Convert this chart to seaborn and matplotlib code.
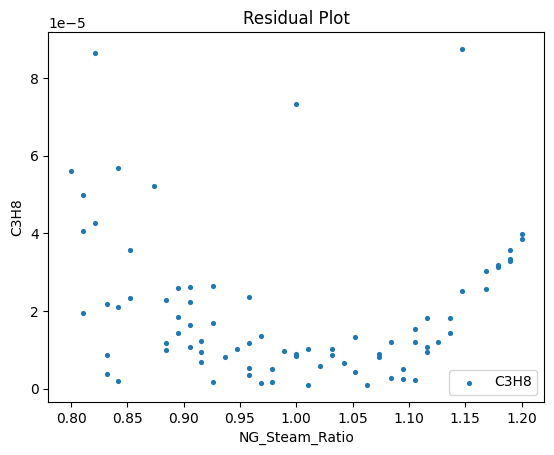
import pandas as pd
import matplotlib
matplotlib.use('Agg')
import matplotlib.pyplot as plt
import seaborn as sns

# NG_Steam_Ratio values
ng_steam_ratio = [
    0.8000,
    0.8105, 0.8105, 0.8105,
    0.8211, 0.8211,
    0.8316, 0.8316, 0.8316,
    0.8421, 0.8421, 0.8421,
    0.8526, 0.8526,
    0.8737,
    0.8842, 0.8842, 0.8842,
    0.8947, 0.8947, 0.8947,
    0.9053, 0.9053, 0.9053, 0.9053,
    0.9158, 0.9158, 0.9158,
    0.9263, 0.9263, 0.9263,
    0.9368,
    0.9474,
    0.9579, 0.9579, 0.9579, 0.9579,
    0.9684, 0.9684,
    0.9789, 0.9789,
    0.9895,
    1.0000, 1.0000, 1.0000,
    1.0105, 1.0105,
    1.0211,
    1.0316, 1.0316,
    1.0421,
    1.0526, 1.0526,
    1.0632,
    1.0737, 1.0737,
    1.0842, 1.0842,
    1.0947, 1.0947,
    1.1053, 1.1053, 1.1053,
    1.1158, 1.1158, 1.1158,
    1.1263,
    1.1368, 1.1368,
    1.1474, 1.1474,
    1.1684, 1.1684,
    1.1789, 1.1789,
    1.1895, 1.1895, 1.1895,
    1.2000, 1.2000,
]

# residuals of C3H8
c3h8 = [
    5.60e-5,
    4.98e-5, 4.06e-5, 1.95e-5,
    8.64e-5, 4.26e-5,
    2.18e-5, 0.87e-5, 0.38e-5,
    5.68e-5, 2.10e-5, 0.20e-5,
    3.57e-5, 2.33e-5,
    5.21e-5,
    2.28e-5, 1.18e-5, 1.00e-5,
    2.59e-5, 1.84e-5, 1.43e-5,
    2.62e-5, 2.23e-5, 1.64e-5, 1.07e-5,
    1.23e-5, 0.94e-5, 0.69e-5,
    2.64e-5, 1.69e-5, 0.17e-5,
    0.82e-5,
    1.02e-5,
    2.36e-5, 1.18e-5, 0.53e-5, 0.35e-5,
    1.36e-5, 0.15e-5,
    0.51e-5, 0.17e-5,
    0.97e-5,
    7.32e-5, 0.89e-5, 0.84e-5,
    1.02e-5, 0.09e-5,
    0.58e-5,
    1.02e-5, 0.87e-5,
    0.66e-5,
    1.33e-5, 0.43e-5,
    0.10e-5,
    0.89e-5, 0.82e-5,
    1.20e-5, 0.28e-5,
    0.51e-5, 0.25e-5,
    1.54e-5, 1.20e-5, 0.22e-5,
    1.82e-5, 1.07e-5, 0.94e-5,
    1.20e-5,
    1.82e-5, 1.43e-5,
    8.74e-5, 2.51e-5,
    3.03e-5, 2.56e-5,
    3.18e-5, 3.13e-5,
    3.57e-5, 3.34e-5, 3.28e-5,
    3.99e-5, 3.85e-5,
]

df = pd.DataFrame({'NG_Steam_Ratio': ng_steam_ratio, 'C3H8': c3h8})

fig, ax = plt.subplots(figsize=(5.54, 4.55), dpi=100)
fig.subplots_adjust(left=0.0875, right=0.982, top=0.9286, bottom=0.1165)

sns.scatterplot(x='NG_Steam_Ratio', y='C3H8', data=df, ax=ax,
                color='#1f77b4', s=14, linewidth=0, label='C3H8')
ax.set_title('Residual Plot')
ax.set_xlabel('NG_Steam_Ratio')
ax.set_ylabel('C3H8')
ax.legend(loc='lower right')

plt.savefig('out.png')
